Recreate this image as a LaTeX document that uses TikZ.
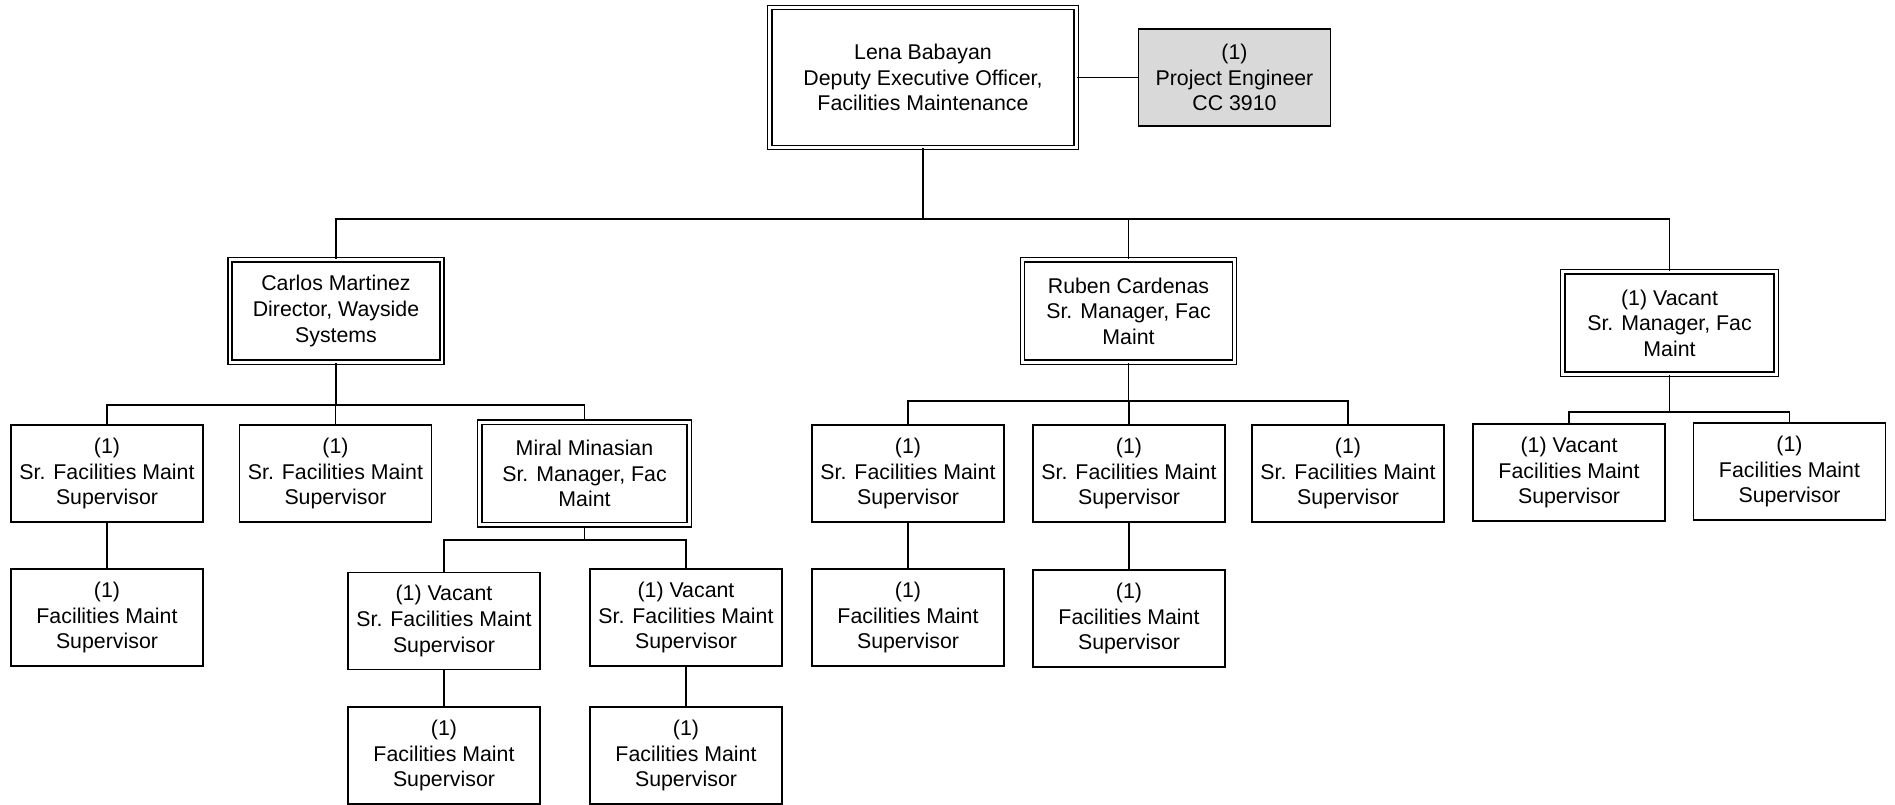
\documentclass[tikz,border=0pt]{standalone}
\usepackage{fontspec}
\setmainfont{Liberation Sans}
\usetikzlibrary{positioning}

\tikzset{
  post/.style={draw=black, line width=1.15pt, fill=white, align=center, inner sep=0pt,
               minimum width=144pt, minimum height=72.75pt,
               font=\fontsize{16}{19.2}\selectfont},
  head/.style={post, line width=1.05pt, double=white, double distance=2.2pt},
  link/.style={draw=black, line width=1.2pt},
}

\begin{document}
\begin{tikzpicture}[x=0.75pt, y=-0.75pt]
  \useasboundingbox (0,0) rectangle (1895,804);

  % top of the chart
  \node[head, minimum width=230pt, minimum height=105pt] (dep) at (923,77.5)
    {Lena Babayan\\Deputy Executive Officer,\\Facilities Maintenance};
  \node[post, fill=black!15] (proj) at (1234.5,77.5) {(1)\\Project Engineer\\CC 3910};

  % second level
  \node[head, minimum width=159pt, minimum height=77pt] (carlos) at (336,311)
    {Carlos Martinez\\Director, Wayside\\Systems};
  \node[head, minimum width=159pt, minimum height=77pt] (ruben) at (1128.5,311)
    {Ruben Cardenas\\Sr. Manager, Fac\\Maint};
  \node[head, minimum width=160pt, minimum height=77pt] (vacmgr) at (1669.5,323)
    {(1) Vacant\\Sr. Manager, Fac\\Maint};

  % under Carlos
  \node[post] (cs1) at (107,473.5) {(1)\\Sr. Facilities Maint\\Supervisor};
  \node[post] (cs2) at (335.5,473.5) {(1)\\Sr. Facilities Maint\\Supervisor};
  \node[head, minimum width=157pt, minimum height=77pt] (miral) at (584.5,473.5)
    {Miral Minasian\\Sr. Manager, Fac\\Maint};
  \node[post] (cs1a) at (107,617.5) {(1)\\Facilities Maint\\Supervisor};

  % under Miral
  \node[post] (mv1) at (444,621) {(1) Vacant\\Sr. Facilities Maint\\Supervisor};
  \node[post] (mv2) at (686,617.5) {(1) Vacant\\Sr. Facilities Maint\\Supervisor};
  \node[post] (mv1a) at (444,755.5) {(1)\\Facilities Maint\\Supervisor};
  \node[post] (mv2a) at (686,755.5) {(1)\\Facilities Maint\\Supervisor};

  % under Ruben
  \node[post] (rs1) at (908,473.5) {(1)\\Sr. Facilities Maint\\Supervisor};
  \node[post] (rs2) at (1129,473.5) {(1)\\Sr. Facilities Maint\\Supervisor};
  \node[post] (rs3) at (1348,473.5) {(1)\\Sr. Facilities Maint\\Supervisor};
  \node[post] (rs1a) at (908,617.5) {(1)\\Facilities Maint\\Supervisor};
  \node[post] (rs2a) at (1129,618.5) {(1)\\Facilities Maint\\Supervisor};

  % under the vacant manager
  \node[post] (vs1) at (1569,472.5) {(1) Vacant\\Facilities Maint\\Supervisor};
  \node[post] (vs2) at (1789.5,471.5) {(1)\\Facilities Maint\\Supervisor};

  % bus points
  \coordinate (depbus) at (923,219);
  \coordinate (carlosbus) at (336,405);
  \coordinate (miralbus) at (584.5,540);
  \coordinate (rubenbus) at (1128.5,401);
  \coordinate (vacbus) at (1669.5,412);

  % connectors
  \draw[link] (dep.east) -- (proj.west);
  \draw[link] (dep.south) -- (depbus);
  \foreach \kid in {carlos,ruben,vacmgr}
    \draw[link] (depbus) -| (\kid.north);

  \draw[link] (carlos.south) -- (carlosbus);
  \foreach \kid in {cs1,cs2,miral}
    \draw[link] (carlosbus) -| (\kid.north);
  \draw[link] (cs1.south) -- (cs1a.north);

  \draw[link] (miral.south) -- (miralbus);
  \foreach \kid in {mv1,mv2}
    \draw[link] (miralbus) -| (\kid.north);
  \draw[link] (mv1.south) -- (mv1a.north);
  \draw[link] (mv2.south) -- (mv2a.north);

  \draw[link] (ruben.south) -- (rubenbus);
  \foreach \kid in {rs1,rs2,rs3}
    \draw[link] (rubenbus) -| (\kid.north);
  \draw[link] (rs1.south) -- (rs1a.north);
  \draw[link] (rs2.south) -- (rs2a.north);

  \draw[link] (vacmgr.south) -- (vacbus);
  \foreach \kid in {vs1,vs2}
    \draw[link] (vacbus) -| (\kid.north);
\end{tikzpicture}
\end{document}
